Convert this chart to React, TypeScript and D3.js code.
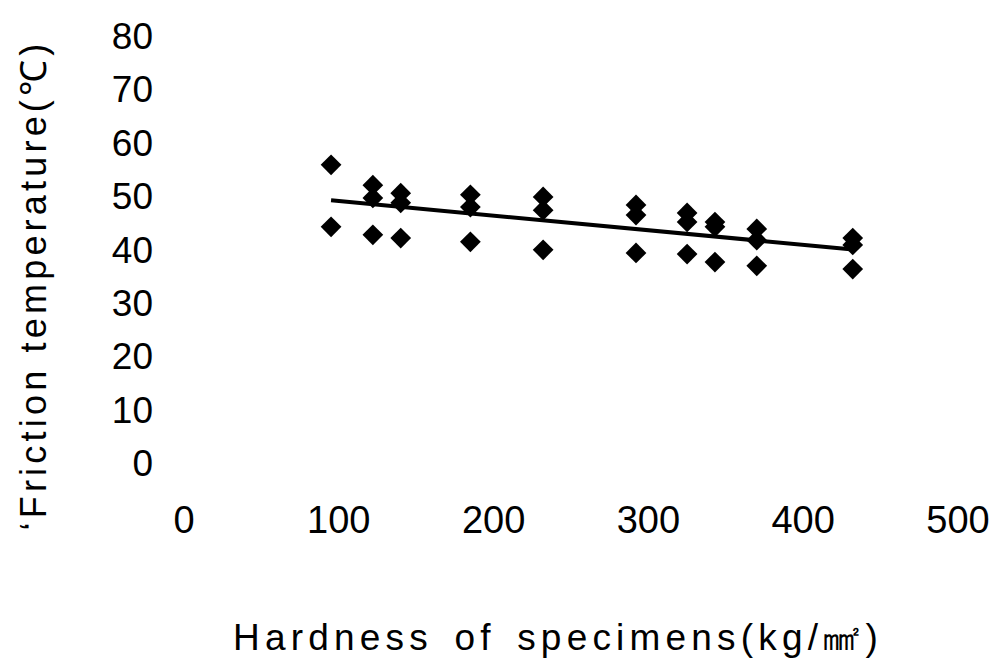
import { useRef, useEffect } from 'react';
import * as d3 from 'd3';

// hardness of specimens (kg/mm2), one entry per specimen group
const hardness = [95, 122, 140, 185, 232, 292, 325, 343, 370, 432];
// friction temperature readings (°C), three runs per specimen
const tempHigh = [55.8, 52.0, 50.5, 50.2, 49.8, 48.3, 46.8, 45.1, 43.8, 42.1];
const tempMid = [null, 49.6, 48.7, 47.9, 47.3, 46.4, 45.1, 44.2, 41.7, 40.8];
const tempLow = [44.2, 42.7, 42.1, 41.4, 39.9, 39.3, 39.1, 37.6, 36.9, 36.3];

const xTicks = [0, 100, 200, 300, 400, 500];
const yTicks = [0, 10, 20, 30, 40, 50, 60, 70, 80];

const W = 997;
const H = 661;
const FONT = '"Liberation Sans", Arial, sans-serif';

const App = () => {
  const ref = useRef<SVGSVGElement>(null);

  useEffect(() => {
    const svg = d3.select(ref.current);
    svg.selectAll('*').remove();

    const x = d3.scaleLinear().domain([0, 500]).range([184, 958]);
    const y = d3.scaleLinear().domain([0, 80]).range([463, 35.5]);

    // flatten the three runs into points
    const points: { x: number; y: number }[] = [];
    [tempHigh, tempMid, tempLow].forEach(series => {
      series.forEach((v, i) => {
        if (v != null) points.push({ x: hardness[i], y: v });
      });
    });

    // y tick labels
    svg.append('g')
      .selectAll('text')
      .data(yTicks)
      .enter().append('text')
      .attr('x', 153)
      .attr('y', d => y(d))
      .attr('dy', '0.36em')
      .attr('text-anchor', 'end')
      .attr('font-family', FONT)
      .attr('font-size', 37)
      .attr('fill', '#000')
      .text(d => d);

    // x tick labels
    svg.append('g')
      .selectAll('text')
      .data(xTicks)
      .enter().append('text')
      .attr('x', d => x(d))
      .attr('y', 533)
      .attr('text-anchor', 'middle')
      .attr('font-family', FONT)
      .attr('font-size', 38)
      .attr('fill', '#000')
      .text(d => d);

    // least squares trend line
    const mx = d3.mean(points, d => d.x) as number;
    const my = d3.mean(points, d => d.y) as number;
    const sxy = d3.sum(points, d => (d.x - mx) * (d.y - my));
    const sxx = d3.sum(points, d => (d.x - mx) ** 2);
    const slope = sxy / sxx;
    const fit = (v: number) => my + slope * (v - mx);
    const [x0, x1] = d3.extent(hardness) as [number, number];

    svg.append('path')
      .datum([x0, x1])
      .attr('d', d3.line<number>().x(d => x(d)).y(d => y(fit(d))))
      .attr('fill', 'none')
      .attr('stroke', '#000')
      .attr('stroke-width', 4);

    // diamond markers
    const diamond = d3.symbol().type(d3.symbolSquare).size(215);
    svg.append('g')
      .selectAll('path')
      .data(points)
      .enter().append('path')
      .attr('d', diamond)
      .attr('transform', d => `translate(${x(d.x)},${y(d.y)}) rotate(45)`)
      .attr('fill', '#000');

    // axis titles
    svg.append('text')
      .attr('transform', 'translate(46,285) rotate(-90)')
      .attr('text-anchor', 'middle')
      .attr('font-family', FONT)
      .attr('font-size', 36)
      .attr('letter-spacing', 4.2)
      .attr('fill', '#000')
      .text('\u2018Friction temperature(\u2103)');

    svg.append('text')
      .attr('x', 558)
      .attr('y', 650)
      .attr('text-anchor', 'middle')
      .attr('font-family', FONT)
      .attr('font-size', 37)
      .attr('letter-spacing', 5.2)
      .attr('word-spacing', 6)
      .attr('fill', '#000')
      .text('Hardness of specimens(kg/\u339F)');
  }, []);

  return (
    <svg
      ref={ref}
      width={W}
      height={H}
      style={{ position: 'absolute', left: 0, top: 0, background: '#fff' }}
    ></svg>
  );
};

export default App;
